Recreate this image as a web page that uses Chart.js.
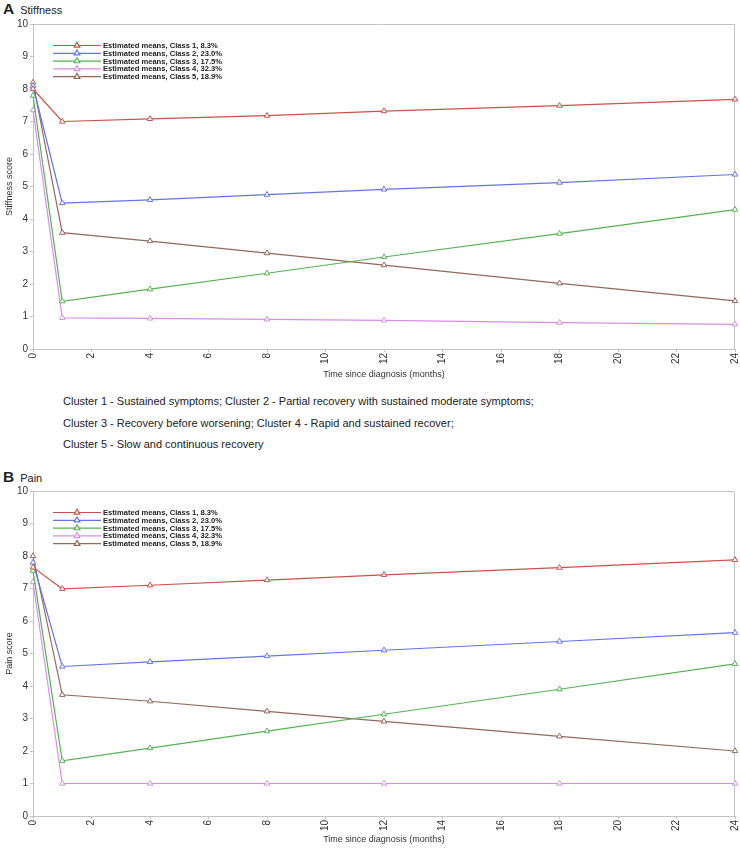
<!DOCTYPE HTML>
<html>
<head>
    <title>Stiffness and pain trajectories</title>
    <meta charset="utf-8" />
    <script src="https://cdn.jsdelivr.net/npm/chart.js"></script>
    <style>
        body {
            margin: 0;
            background: #fff;
            overflow: hidden;
            font-family: "Liberation Sans", Arial, sans-serif;
            color: #222;
        }
        #page {
            position: relative;
            width: 740px;
            height: 848px;
            overflow: hidden;
        }
        .panelTitle {
            position: absolute;
            left: 3px;
            font-size: 11px;
            line-height: 18px;
            color: #222;
        }
        .panelTitle b {
            font-size: 15.5px;
            margin-right: 6px;
        }
        canvas {
            position: absolute;
            left: 0;
        }
        #caption {
            position: absolute;
            left: 63px;
            top: 391px;
            font-size: 11px;
            line-height: 21.7px;
            color: #222;
        }
    </style>
</head>
<body>
<div id="page">
    <div class="panelTitle" style="top:0px;"><b>A</b>Stiffness</div>
    <canvas id="stiffnessChart" width="740" height="367" style="top:16px;"></canvas>

    <div id="caption">
        Cluster 1 - Sustained symptoms; Cluster 2 - Partial recovery with sustained moderate symptoms;<br>
        Cluster 3 - Recovery before worsening; Cluster 4 - Rapid and sustained recover;<br>
        Cluster 5 - Slow and continuous recovery
    </div>

    <div class="panelTitle" style="top:468px;"><b>B</b>Pain</div>
    <canvas id="painChart" width="740" height="367" style="top:481px;"></canvas>
</div>

<script>
    // months at which the estimated means were reported
    const months = [0, 1, 4, 8, 12, 18, 24];

    const classLabels = [
        'Estimated means, Class 1, 8.3%',
        'Estimated means, Class 2, 23.0%',
        'Estimated means, Class 3, 17.5%',
        'Estimated means, Class 4, 32.3%',
        'Estimated means, Class 5, 18.9%'
    ];
    const classColors = ['#c9534a', '#6474e6', '#55b352', '#d88ee8', '#94695a'];

    // A - stiffness
    const stiffClass1 = [8.0, 7.0, 7.08, 7.18, 7.32, 7.49, 7.68];
    const stiffClass2 = [8.1, 4.49, 4.59, 4.75, 4.91, 5.12, 5.37];
    const stiffClass3 = [7.8, 1.47, 1.84, 2.33, 2.83, 3.55, 4.29];
    const stiffClass4 = [7.35, 0.96, 0.94, 0.91, 0.88, 0.81, 0.76];
    const stiffClass5 = [8.2, 3.58, 3.32, 2.95, 2.58, 2.02, 1.48];

    // B - pain
    const painClass1 = [7.65, 6.99, 7.1, 7.26, 7.42, 7.64, 7.88];
    const painClass2 = [7.8, 4.6, 4.74, 4.92, 5.1, 5.37, 5.64];
    const painClass3 = [7.55, 1.7, 2.09, 2.61, 3.13, 3.9, 4.68];
    const painClass4 = [7.2, 1.0, 1.0, 1.0, 1.0, 1.0, 1.0];
    const painClass5 = [8.0, 3.73, 3.53, 3.22, 2.91, 2.45, 2.0];

    const xTicks = [0, 2, 4, 6, 8, 10, 12, 14, 16, 18, 20, 22, 24];
    const yTicks = [0, 1, 2, 3, 4, 5, 6, 7, 8, 9, 10];

    const axisColor = '#c4c4c4';
    const textColor = '#333';
    const fontFamily = '"Liberation Sans", Arial, sans-serif';

    // grey box round the plot area (top and right sides)
    const frame = {
        id: 'frame',
        beforeDatasetsDraw(chart) {
            const a = chart.chartArea;
            const c = chart.ctx;
            c.save();
            c.strokeStyle = axisColor;
            c.lineWidth = 1;
            c.beginPath();
            c.moveTo(a.left, a.top + 0.5);
            c.lineTo(a.right - 0.5, a.top + 0.5);
            c.lineTo(a.right - 0.5, a.bottom);
            c.stroke();
            c.restore();
        }
    };

    // legend drawn inside the plot, line + triangle + bold text
    const insideLegend = {
        id: 'insideLegend',
        afterDatasetsDraw(chart) {
            const a = chart.chartArea;
            const c = chart.ctx;
            c.save();
            chart.data.datasets.forEach((ds, i) => {
                const y = a.top + 21.5 + i * 7.8;
                const x0 = a.left + 20;
                c.strokeStyle = ds.borderColor;
                c.lineWidth = 1.2;
                c.beginPath();
                c.moveTo(x0, y);
                c.lineTo(x0 + 48, y);
                c.stroke();
                c.fillStyle = '#fff';
                Chart.helpers.drawPoint(c, {pointStyle: 'triangle', radius: 3.3, borderWidth: 1, rotation: 0}, x0 + 24, y);
                c.fillStyle = '#222';
                c.font = 'bold 7.6px ' + fontFamily;
                c.textBaseline = 'middle';
                c.fillText(ds.label, x0 + 50, y + 0.5);
            });
            c.restore();
        }
    };

    function makeChart(canvasId, series, yTitle, padTop, xAxisHeight) {
        const datasets = series.map((vals, i) => ({
            label: classLabels[i],
            data: months.map((m, j) => ({x: m, y: vals[j]})),
            borderColor: classColors[i],
            backgroundColor: classColors[i],
            borderWidth: 1.2,
            pointStyle: 'triangle',
            pointRadius: 3.2,
            pointBorderWidth: 1,
            pointBackgroundColor: '#fff',
            pointBorderColor: classColors[i],
            tension: 0,
            clip: false
        }));

        return new Chart(document.getElementById(canvasId), {
            type: 'line',
            data: {datasets: datasets},
            options: {
                responsive: false,
                animation: false,
                layout: {
                    padding: {top: padTop, right: 5, left: 0, bottom: 0}
                },
                plugins: {
                    legend: {display: false},
                    tooltip: {enabled: false}
                },
                scales: {
                    x: {
                        type: 'linear',
                        min: 0,
                        max: 24,
                        afterBuildTicks(scale) {
                            scale.ticks = xTicks.map(v => ({value: v}));
                        },
                        afterFit(scale) {
                            scale.height = xAxisHeight;
                            scale.paddingLeft = 0;
                            scale.paddingRight = 0;
                        },
                        ticks: {
                            minRotation: 90,
                            maxRotation: 90,
                            padding: 1,
                            color: textColor,
                            font: {family: fontFamily, size: 10}
                        },
                        grid: {
                            drawOnChartArea: false,
                            drawTicks: true,
                            tickLength: 3,
                            color: axisColor
                        },
                        border: {color: axisColor},
                        title: {
                            display: true,
                            text: 'Time since diagnosis (months)',
                            color: textColor,
                            padding: {top: 0, bottom: 3},
                            font: {family: fontFamily, size: 9}
                        }
                    },
                    y: {
                        min: 0,
                        max: 10,
                        afterBuildTicks(scale) {
                            scale.ticks = yTicks.map(v => ({value: v}));
                        },
                        afterFit(scale) {
                            scale.width = 33;
                            scale.paddingTop = 0;
                            scale.paddingBottom = 0;
                        },
                        ticks: {
                            padding: 2,
                            color: textColor,
                            font: {family: fontFamily, size: 10}
                        },
                        grid: {
                            drawOnChartArea: false,
                            drawTicks: true,
                            tickLength: 3,
                            color: axisColor
                        },
                        border: {color: axisColor},
                        title: {
                            display: true,
                            text: yTitle,
                            color: textColor,
                            padding: {top: 4, bottom: 0},
                            font: {family: fontFamily, size: 9}
                        }
                    }
                }
            },
            plugins: [frame, insideLegend]
        });
    }

    makeChart('stiffnessChart',
        [stiffClass1, stiffClass2, stiffClass3, stiffClass4, stiffClass5], 'Stiffness score', 8, 34);
    makeChart('painChart',
        [painClass1, painClass2, painClass3, painClass4, painClass5], 'Pain score', 10, 32);
</script>
</body>
</html>
